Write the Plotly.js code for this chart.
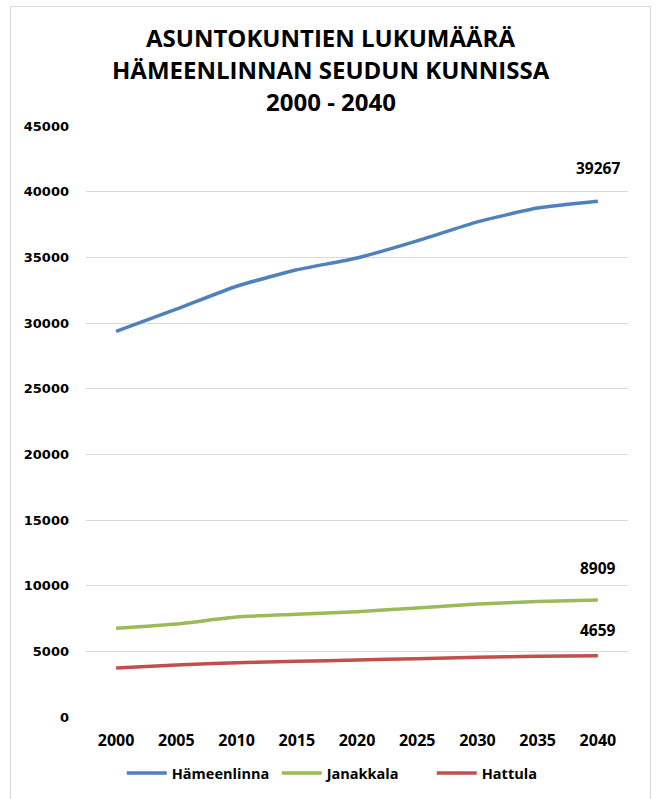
<!DOCTYPE html>
<html>
<head>
<meta charset="utf-8">
<script src="https://cdn.plot.ly/plotly-3.0.1.min.js"></script>
<style>
html,body{margin:0;padding:0;background:#fff;}
#wrap{position:relative;width:657px;height:799px;}
#chart{width:657px;height:799px;}
#frame{position:absolute;left:10px;top:6px;width:639px;height:800px;border:1px solid #d9d9d9;pointer-events:none;}
</style>
</head>
<body>
<div id="wrap"><div id="chart"></div><div id="frame"></div></div>
<script>
const years = ['2000','2005','2010','2015','2020','2025','2030','2035','2040'];
const hameenlinna = [29370, 31050, 32800, 34050, 34950, 36250, 37700, 38750, 39267];
const janakkala = [6750, 7080, 7610, 7820, 8020, 8300, 8600, 8800, 8909];
const hattula = [3730, 3960, 4140, 4240, 4340, 4440, 4540, 4620, 4659];
const seriesNames = ['Hämeenlinna', 'Janakkala', 'Hattula'];
const titleLines = ['ASUNTOKUNTIEN LUKUMÄÄRÄ', 'HÄMEENLINNAN SEUDUN KUNNISSA', '2000 - 2040'];
const yTicks = [0,5000,10000,15000,20000,25000,30000,35000,40000,45000];

const colors = ['#4f81bd', '#9bbb59', '#c0504d'];
const allSeries = [hameenlinna, janakkala, hattula];

const traces = allSeries.map((vals, i) => ({
  type: 'scatter', mode: 'lines', x: years, y: vals, name: seriesNames[i],
  line: {color: colors[i], width: 3.5, shape: 'spline', smoothing: 0.5},
  hoverinfo: 'x+y'
}));

const labelShift = [33, 32, 26];
const annotations = allSeries.map((vals, i) => ({
  x: years.length - 1, y: vals[vals.length-1], xref: 'x', yref: 'y',
  text: String(vals[vals.length-1]), showarrow: false, yshift: labelShift[i], xshift: 0,
  font: {family: 'Open Sans', size: 15.5, color: '#000', weight: 'bold'}
}));
const titleY = [1.149, 1.095, 1.042];
titleLines.forEach((t, i) => annotations.push({
  x: 0.452, y: titleY[i], xref: 'paper', yref: 'paper', text: '<b>' + t + '</b>', showarrow: false,
  xanchor: 'center', yanchor: 'middle',
  font: {family: 'Open Sans', size: 24, color: '#000'}
}));

const layout = {
  width: 657, height: 799,
  margin: {l: 86, r: 29, t: 126, b: 82, autoexpand: false},
  paper_bgcolor: '#fff', plot_bgcolor: '#fff',
  showlegend: true,
  legend: {orientation: 'h', x: 0.066, xanchor: 'left', y: -0.095, yanchor: 'middle',
           font: {family: 'Open Sans', size: 14.5, color: '#000', weight: 'bold'}, itemwidth: 40, entrywidth: 100, tracegroupgap: 0},
  xaxis: {type: 'category', range: [-0.5, years.length - 0.5], showgrid: false, zeroline: false, showline: false, ticks: '',
          tickfont: {family: 'Open Sans', size: 16, color: '#000', weight: 'bold'}, ticklabelstandoff: 12, fixedrange: true},
  yaxis: {range: [0, 45000], tickvals: yTicks, ticktext: yTicks.map(String), showgrid: true, gridcolor: '#d9d9d9', gridwidth: 1,
          zeroline: false, showline: false, ticks: '',
          tickfont: {family: 'DejaVu Sans', size: 13, color: '#000', weight: 'bold'}, ticklabelstandoff: 16, fixedrange: true},
  annotations: annotations
};

Plotly.newPlot('chart', traces, layout, {displayModeBar: false, staticPlot: true});
</script>
</body>
</html>
